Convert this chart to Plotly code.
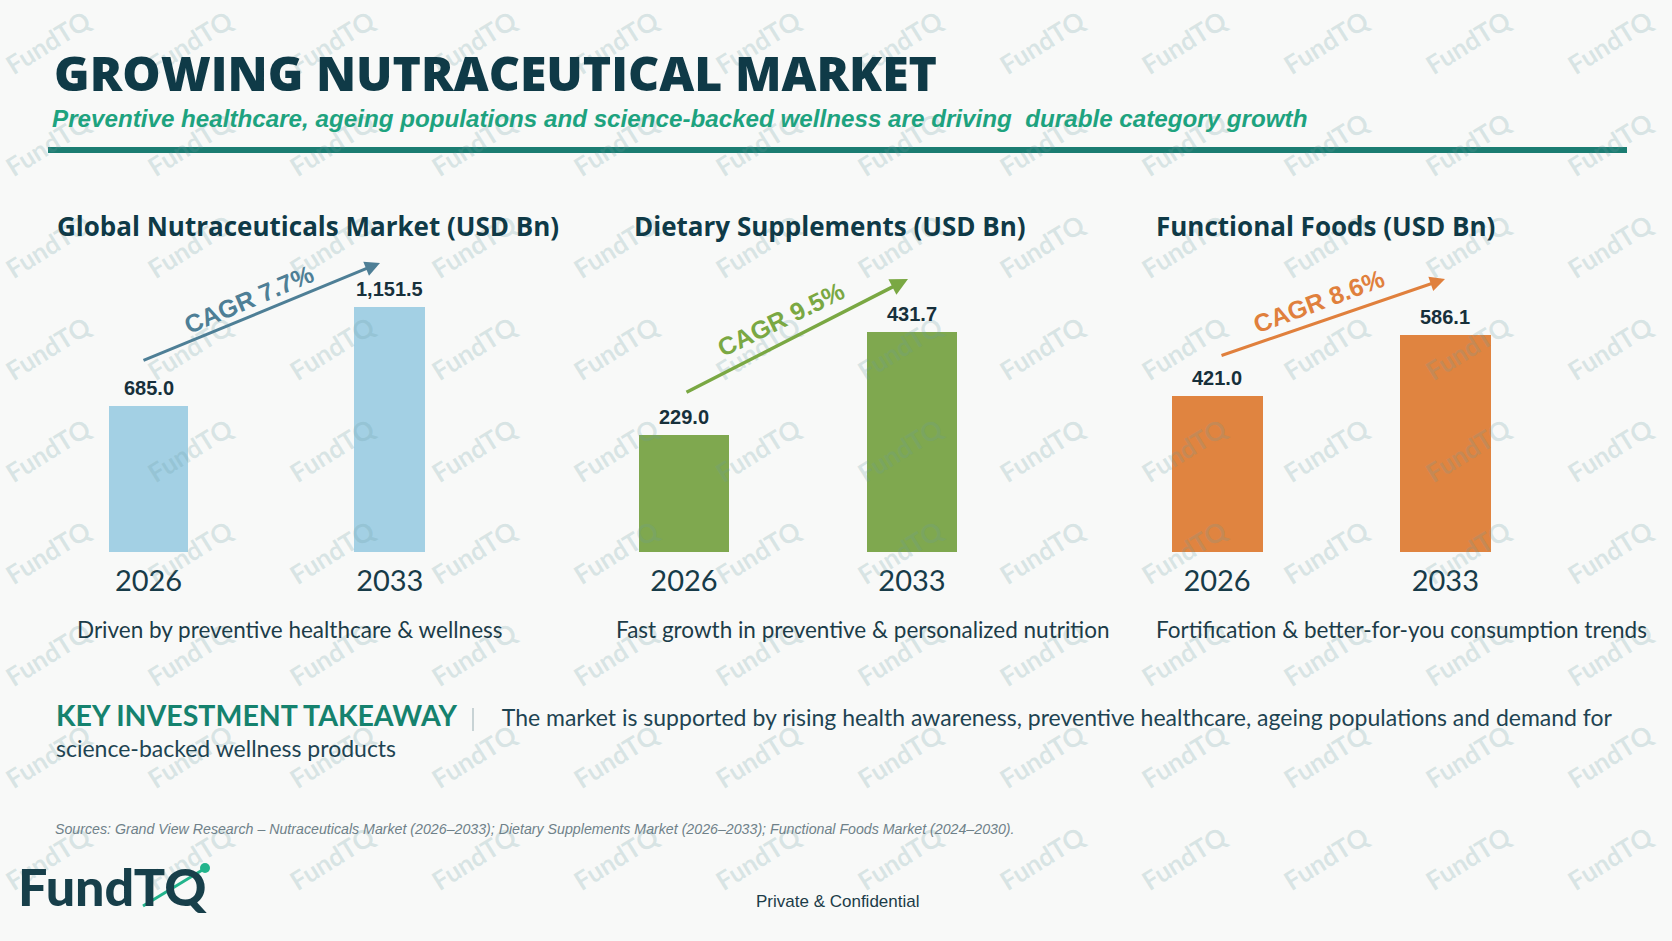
import plotly.graph_objects as go

W, H = 1672, 941

# ---------------- data ----------------
years = ["2026", "2033"]
nutraceuticals = [685.0, 1151.5]
supplements = [229.0, 431.7]
functional_foods = [421.0, 586.1]

panel_titles = [
    "Global Nutraceuticals Market (USD Bn)",
    "Dietary Supplements (USD Bn)",
    "Functional Foods (USD Bn)",
]
cagr_labels = ["CAGR 7.7%", "CAGR 9.5%", "CAGR 8.6%"]
captions = [
    "Driven by preventive healthcare & wellness",
    "Fast growth in preventive & personalized nutrition",
    "Fortification & better-for-you consumption trends",
]

title_text = "GROWING NUTRACEUTICAL MARKET"
subtitle_text = ("Preventive healthcare, ageing populations and science-backed wellness "
                 "are driving\u00a0 durable category growth")
takeaway_head = "KEY INVESTMENT TAKEAWAY"
takeaway_line1 = ("The market is supported by rising health awareness, preventive healthcare, "
                  "ageing populations and demand for")
takeaway_line2 = "science-backed wellness products"
sources_text = ("Sources: Grand View Research \u2013 Nutraceuticals Market (2026\u20132033); "
                "Dietary Supplements Market (2026\u20132033); Functional Foods Market (2024\u20132030).")
footer_text = "Private & Confidential"
logo_text = "FundTQ"
watermark_text = "FundTQ"

# ---------------- styling / layout ----------------
BG = "#f8f9f8"
DARK = "#0f3a47"
TEXT = "#1c3c48"

def px(x):
    return x / W

def py(y):
    return 1 - y / H

series = [nutraceuticals, supplements, functional_foods]
bar_colors = ["#a3d0e4", "#7fa84f", "#e08440"]
arrow_colors = ["#4e7f96", "#7aa843", "#e0803d"]
x_domains = [(27.9, 510.4), (570.0, 1026.0), (1102.9, 1559.5)]
bar_widths = [[0.327, 0.294], [0.395, 0.392], [0.399, 0.399]]
bar_px_height = [245, 220, 217]
base_px, top_px = 552, 250
title_x = [55, 632, 1154]
caption_x = [75, 614, 1154]
arrows = [((142, 361), (380, 263)), ((685, 393), (908, 279)), ((1220, 356), (1445, 279))]
arrow_w = [3, 3.5, 3]
cagr_pos = [((249, 299), -23), ((781, 319), -26), ((1319, 301), -20.5)]

fig = go.Figure()
layout_axes = {}
ann = []

# watermark grid
for j in range(9):
    for i in range(12):
        ann.append(dict(
            x=px(48 + 142 * i), y=py(42 + 102 * j), xref="paper", yref="paper",
            text=watermark_text, showarrow=False, textangle=-32,
            font=dict(family="Lato", size=26, color="rgba(105,155,160,0.22)", weight="bold"),
            xanchor="center", yanchor="middle",
        ))

for i, vals in enumerate(series):
    sfx = "" if i == 0 else str(i + 1)
    fig.add_trace(go.Bar(
        x=years, y=vals,
        xaxis="x" + sfx, yaxis="y" + sfx,
        width=bar_widths[i],
        marker=dict(color=bar_colors[i], line=dict(width=0)),
        hoverinfo="skip",
        showlegend=False,
    ))
    # value labels placed through the axes (category serial index on x)
    for k, v in enumerate(vals):
        ann.append(dict(
            x=k, y=v, xref="x" + sfx, yref="y" + sfx,
            text=f"{v:,.1f}", showarrow=False, yshift=18,
            xanchor="center", yanchor="middle",
            font=dict(family="Liberation Sans, Arial", size=20, color="#17303b", weight="bold"),
        ))
    ymax = max(vals) * (base_px - top_px) / bar_px_height[i]
    layout_axes["xaxis" + sfx] = dict(
        domain=[px(x_domains[i][0]), px(x_domains[i][1])],
        anchor="y" + sfx, type="category", range=[-0.5, 1.5],
        showgrid=False, zeroline=False, showline=False, ticks="",
        tickfont=dict(family="Lato", size=29, color="#173b48"),
        ticklabelstandoff=9, fixedrange=True,
    )
    layout_axes["yaxis" + sfx] = dict(
        domain=[py(base_px), py(top_px)], anchor="x" + sfx,
        range=[0, ymax], visible=False, fixedrange=True,
    )

def text(x, y, s, size, color, family="Lato", weight="normal", style="normal",
         xanchor="left", yanchor="middle", angle=0, align="left"):
    ann.append(dict(
        x=px(x), y=py(y), xref="paper", yref="paper", text=s, showarrow=False,
        xanchor=xanchor, yanchor=yanchor, textangle=angle, align=align,
        font=dict(family=family, size=size, color=color, weight=weight, style=style),
    ))

# header
text(52, 72, title_text, 48.2, DARK, family="Open Sans", weight=800)
text(50, 118, subtitle_text, 24.2, "#1ea37f", family="Liberation Sans, Arial",
     weight="bold", style="italic")

# panels
for i in range(3):
    text(title_x[i], 226, panel_titles[i], 26, DARK, family="Open Sans", weight="bold")
    text(caption_x[i], 629, captions[i], 22.5, TEXT, family="Lato")
    (tx, ty), (hx, hy) = arrows[i]
    ann.append(dict(
        x=px(hx), y=py(hy), xref="paper", yref="paper",
        ax=tx - hx, ay=ty - hy, axref="pixel", ayref="pixel",
        text="", showarrow=True, arrowhead=2, arrowsize=1.0,
        arrowwidth=arrow_w[i], arrowcolor=arrow_colors[i], standoff=0,
    ))
    (cx, cy), ang = cagr_pos[i]
    text(cx, cy, cagr_labels[i], 25, arrow_colors[i], family="Liberation Sans, Arial",
         weight="bold", xanchor="center", angle=ang)

# takeaway (one block of two lines)
spacer = "\u00a0" * 7
takeaway_html = (
    "<span style='font-family:Lato;font-weight:bold;font-size:28.5px;fill:#15826e'>"
    + takeaway_head + "</span>"
    + "<span style='font-family:Liberation Sans;font-size:23px'>" + spacer + "</span>"
    + "<span style='font-size:23px'>" + takeaway_line1 + "</span>"
    + "<br><span style='font-size:23px'>" + takeaway_line2 + "</span>"
)
text(54, 730, takeaway_html, 24, "#1e4452", family="Lato")

# sources + footer
text(53, 829, sources_text, 14.2, "#6f8189", family="Liberation Sans, Arial", style="italic")
text(837, 901, footer_text, 17, TEXT, family="Liberation Sans, Arial", xanchor="center")
text(16, 886, logo_text, 52, "#173f4a", family="Lato", weight=900)

shapes = [
    dict(type="rect", xref="paper", yref="paper", x0=px(48), x1=px(1627),
         y0=py(153), y1=py(147), fillcolor="#1b7d72", line=dict(width=0), layer="above"),
    dict(type="line", xref="paper", yref="paper", x0=px(473), x1=px(473),
         y0=py(708), y1=py(731), line=dict(color="#b9c6ca", width=1.5)),
    dict(type="line", xref="paper", yref="paper", x0=px(143), x1=px(204),
         y0=py(906), y1=py(869), line=dict(color="#22b48c", width=3)),
    dict(type="circle", xref="paper", yref="paper", x0=px(200), x1=px(210),
         y0=py(873), y1=py(863), fillcolor="#22b48c", line=dict(width=0)),
]

fig.update_layout(
    width=W, height=H, autosize=False,
    margin=dict(l=0, r=0, t=0, b=0),
    paper_bgcolor=BG, plot_bgcolor="rgba(0,0,0,0)",
    annotations=ann, shapes=shapes, showlegend=False,
    bargap=0,
    **layout_axes,
)

fig.write_html("out.html", config={"displayModeBar": False},
               post_script="document.body.style.margin='0';document.body.style.background='" + BG + "';")
